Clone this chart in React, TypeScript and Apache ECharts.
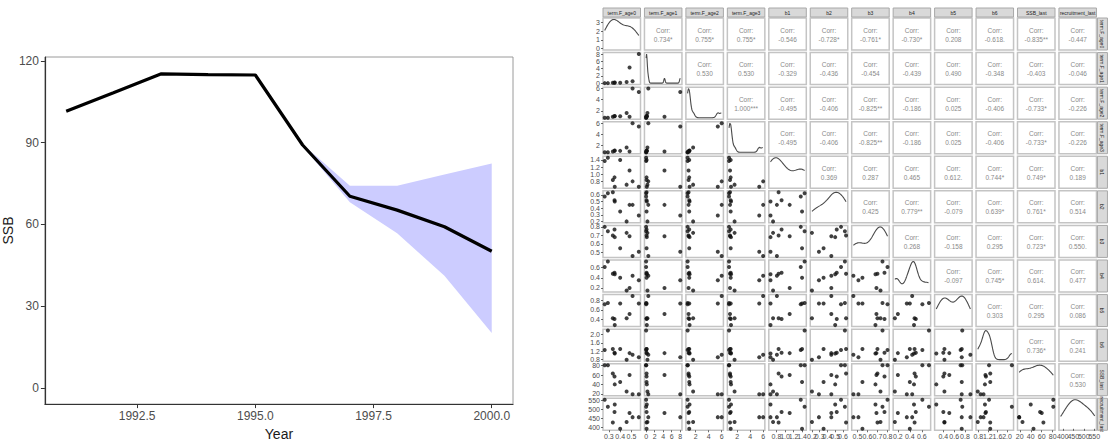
import React, { useEffect, useRef } from "react";
import * as echarts from "echarts";

// ---------- Left chart data ----------
const years = [1991, 1992, 1993, 1994, 1995, 1996, 1997, 1998, 1999, 2000];
const ssb = [101.5, 108.3, 115.2, 114.9, 114.8, 89.1, 70.3, 65.2, 59.1, 50.1];
const ribbonYears = [1996, 1997, 1998, 1999, 2000];
const ribbonLower = [88.6, 68.1, 56.7, 41.1, 20.1];
const ribbonUpper = [89.4, 74.1, 74.1, 78.3, 82.3];
const yearTicks = [1992.5, 1995.0, 1997.5, 2000.0];
const ssbTicks = [0, 30, 60, 90, 120];

// ---------- Pairs plot data (10 observations) ----------
const varNames = [
  "term.F_age0", "term.F_age1", "term.F_age2", "term.F_age3",
  "b1", "b2", "b3", "b4", "b5", "b6", "SSB_last", "recruitment_last",
];
const termFAge0 = [0.263, 0.291, 0.335, 0.35, 0.352, 0.4, 0.457, 0.483, 0.51, 0.565];
const termFAge1 = [0.0, 0.0, 0.1, 0.1, 0.15, 0.1, 0.3, 4.3, 0.5, 8.0];
const termFAge2 = [0.75, 0.75, 0.9, 1.0, 1.05, 1.0, 1.6, 0.9, 6.0, 5.4];
const termFAge3 = [0.75, 0.75, 0.9, 1.0, 1.05, 1.0, 1.6, 0.9, 6.0, 5.4];
const b1 = [1.37, 1.46, 0.85, 0.92, 0.66, 1.4, 0.72, 1.11, 0.81, 0.66];
const b2 = [0.575, 0.625, 0.64, 0.52, 0.5, 0.35, 0.2, 0.45, 0.45, 0.29];
const b3 = [0.8, 0.75, 0.7, 0.77, 0.68, 0.55, 0.73, 0.69, 0.46, 0.51];
const b4 = [0.61, 0.72, 0.48, 0.5, 0.47, 0.4, 0.15, 0.2, 0.44, 0.35];
const b5 = [0.72, 0.75, 0.42, 0.4, 0.27, 0.74, 0.42, 0.51, 0.9, 0.74];
const b6 = [1.25, 2.2, 1.3, 1.12, 1.08, 1.3, 0.78, 1.1, 1.02, 0.9];
const ssbLast = [81, 81, 63, 57, 40, 45, 25, 60, 19, 19];
const recruitmentLast = [552, 513, 425, 484, 525, 390, 428, 478, 455, 455];

const pairTicks = [
  [0.3, 0.4, 0.5], [0, 2, 4, 6, 8], [2, 4, 6], [2, 4, 6],
  [0.8, 1.0, 1.2, 1.4], [0.2, 0.3, 0.4, 0.5, 0.6], [0.5, 0.6, 0.7, 0.8],
  [0.2, 0.4, 0.6], [0.4, 0.6, 0.8], [0.8, 1.2, 1.6, 2.0], [20, 40, 60, 80],
  [400, 450, 500, 550],
];
const tickDecimals = [1, 0, 0, 0, 1, 1, 1, 1, 1, 1, 0, 0];
const densityTicks = [0, 1, 2, 3];

const corrRow1 = ["0.734*", "0.755*", "0.755*", "-0.546", "-0.728*", "-0.761*", "-0.730*", "0.208", "-0.618.", "-0.835**", "-0.447"];
const corrRow2 = ["0.530", "0.530", "-0.329", "-0.436", "-0.454", "-0.439", "0.490", "-0.348", "-0.403", "-0.046"];
const corrRow3 = ["1.000***", "-0.495", "-0.406", "-0.825**", "-0.186", "0.025", "-0.406", "-0.733*", "-0.226"];
const corrRow4 = ["-0.495", "-0.406", "-0.825**", "-0.186", "0.025", "-0.406", "-0.733*", "-0.226"];
const corrRow5 = ["0.369", "0.287", "0.465", "0.612.", "0.744*", "0.749*", "0.189"];
const corrRow6 = ["0.425", "0.779**", "-0.079", "0.639*", "0.761*", "0.514"];
const corrRow7 = ["0.268", "-0.158", "0.295", "0.723*", "0.550."];
const corrRow8 = ["-0.097", "0.745*", "0.614.", "0.477"];
const corrRow9 = ["0.303", "0.295", "0.086"];
const corrRow10 = ["0.736*", "0.241"];
const corrRow11 = ["0.530"];
const corrLabels = [corrRow1, corrRow2, corrRow3, corrRow4, corrRow5, corrRow6, corrRow7, corrRow8, corrRow9, corrRow10, corrRow11];

const pairVars = [termFAge0, termFAge1, termFAge2, termFAge3, b1, b2, b3, b4, b5, b6, ssbLast, recruitmentLast];

// ---------- helpers ----------
function kde(vals: number[], steps = 80): number[][] {
  const n = vals.length;
  const s = [...vals].sort((a, b) => a - b);
  const mean = s.reduce((a, b) => a + b, 0) / n;
  const sd = Math.sqrt(s.reduce((a, b) => a + (b - mean) ** 2, 0) / (n - 1));
  const q = (p: number) => {
    const h = (n - 1) * p;
    const lo = Math.floor(h);
    return s[lo] + (h - lo) * ((s[lo + 1] ?? s[lo]) - s[lo]);
  };
  const iqr = q(0.75) - q(0.25);
  let lo = Math.min(sd, iqr / 1.34);
  if (!(lo > 0)) lo = sd;
  const bw = 0.9 * lo * Math.pow(n, -0.2);
  const out: number[][] = [];
  const mn = s[0], mx = s[n - 1];
  for (let k = 0; k <= steps; k++) {
    const x = mn + ((mx - mn) * k) / steps;
    let d = 0;
    for (const v of s) {
      const z = (x - v) / bw;
      d += Math.exp(-0.5 * z * z);
    }
    d /= n * bw * Math.sqrt(2 * Math.PI);
    out.push([x, d]);
  }
  return out;
}

const FONT = "Liberation Sans, Arial, sans-serif";
const PX0 = 603, PDX = 41.45, PW = 37.5;
const PY0 = 18, PDY = 34.57, PH = 32;
const BORDER = "#c4c4c4";

type LabelSpec = { gi: number; axis: "x" | "y"; values: number[]; decimals: number; xmin: number; ymin: number };

function buildOption() {
  const grids: any[] = [];
  const xAxes: any[] = [];
  const yAxes: any[] = [];
  const series: any[] = [];
  const graphics: any[] = [];
  const labelSpecs: LabelSpec[] = [];

  // ---- Left chart ----
  grids.push({ left: 44, top: 57, width: 469, height: 354, show: true, borderColor: "#9a9a9a", borderWidth: 1, backgroundColor: "#fff" });
  xAxes.push({
    type: "value", gridIndex: 0, min: 1990.55, max: 2000.45,
    axisLine: { show: true, onZero: false, lineStyle: { color: "#333", width: 1.2 } },
    axisTick: { show: true, customValues: yearTicks, length: 4, lineStyle: { color: "#333" } },
    axisLabel: { customValues: yearTicks, formatter: (v: number) => v.toFixed(1), fontSize: 12, color: "#4d4d4d", margin: 6, fontFamily: FONT },
    splitLine: { show: false },
    name: "Year", nameLocation: "middle", nameGap: 19,
    nameTextStyle: { fontSize: 14, color: "#1a1a1a", fontFamily: FONT },
  });
  yAxes.push({
    type: "value", gridIndex: 0, min: -6, max: 121.4,
    axisLine: { show: true, onZero: false, lineStyle: { color: "#333", width: 1.2 } },
    axisTick: { show: true, customValues: ssbTicks, length: 4, lineStyle: { color: "#333" } },
    axisLabel: { customValues: ssbTicks, fontSize: 12, color: "#4d4d4d", margin: 6, fontFamily: FONT },
    splitLine: { show: false },
    name: "SSB", nameLocation: "middle", nameGap: 26,
    nameTextStyle: { fontSize: 14, color: "#1a1a1a", fontFamily: FONT },
  });
  series.push({
    type: "custom", xAxisIndex: 0, yAxisIndex: 0, silent: true, z: 1,
    data: [[ribbonYears[0], ribbonLower[0]]],
    renderItem: (_p: any, api: any) => {
      const pts: number[][] = [];
      ribbonYears.forEach((y, i) => pts.push(api.coord([y, ribbonUpper[i]])));
      for (let i = ribbonYears.length - 1; i >= 0; i--) pts.push(api.coord([ribbonYears[i], ribbonLower[i]]));
      return { type: "polygon", shape: { points: pts }, style: { fill: "rgb(204,204,255)", stroke: "none" } };
    },
  });
  series.push({
    type: "line", xAxisIndex: 0, yAxisIndex: 0, z: 3,
    data: years.map((y, i) => [y, ssb[i]]),
    showSymbol: false, lineStyle: { color: "#000", width: 3.2 },
  });

  // ---- Pairs plot ----
  const ranges = pairVars.map((v) => {
    const mn = Math.min(...v), mx = Math.max(...v);
    const pad = 0.05 * (mx - mn);
    return [mn - pad, mx + pad];
  });

  for (let i = 0; i < 12; i++) {
    for (let j = 0; j <= i; j++) {
      const gi = grids.length;
      const left = PX0 + j * PDX;
      const top = PY0 + i * PDY;
      grids.push({ left, top, width: PW, height: PH, show: true, borderColor: BORDER, borderWidth: 1.5, backgroundColor: "#fff" });
      const bottomRow = i === 11;
      const firstCol = j === 0;
      xAxes.push({
        type: "value", gridIndex: gi, min: ranges[j][0], max: ranges[j][1],
        axisLine: { show: false },
        axisTick: { show: bottomRow, customValues: pairTicks[j], length: 2, lineStyle: { color: "#444", width: 0.8 } },
        axisLabel: { show: false },
        splitLine: { show: false },
      });
      let ymin: number;
      if (i === j) {
        const dens = kde(pairVars[i]);
        const dmax = Math.max(...dens.map((p) => p[1]));
        ymin = -0.05 * dmax;
        yAxes.push({
          type: "value", gridIndex: gi, min: ymin, max: 1.05 * dmax,
          axisLine: { show: false },
          axisTick: { show: firstCol, customValues: densityTicks, length: 2, lineStyle: { color: "#444", width: 0.8 } },
          axisLabel: { show: false },
          splitLine: { show: false },
        });
        series.push({
          type: "line", xAxisIndex: gi, yAxisIndex: gi, data: dens, showSymbol: false,
          lineStyle: { color: "#4a4a4a", width: 1.1 }, silent: true,
        });
        if (firstCol) labelSpecs.push({ gi, axis: "y", values: densityTicks, decimals: 0, xmin: ranges[j][0], ymin });
      } else {
        ymin = ranges[i][0];
        yAxes.push({
          type: "value", gridIndex: gi, min: ranges[i][0], max: ranges[i][1],
          axisLine: { show: false },
          axisTick: { show: firstCol, customValues: pairTicks[i], length: 2, lineStyle: { color: "#444", width: 0.8 } },
          axisLabel: { show: false },
          splitLine: { show: false },
        });
        series.push({
          type: "scatter", xAxisIndex: gi, yAxisIndex: gi, silent: true,
          data: pairVars[j].map((x, k) => [x, pairVars[i][k]]),
          symbolSize: 4, itemStyle: { color: "#111" },
        });
        if (firstCol) labelSpecs.push({ gi, axis: "y", values: pairTicks[i], decimals: tickDecimals[i], xmin: ranges[j][0], ymin });
      }
      if (bottomRow) labelSpecs.push({ gi, axis: "x", values: pairTicks[j], decimals: tickDecimals[j], xmin: ranges[j][0], ymin });
    }
  }

  // upper triangle correlation cells
  for (let i = 0; i < 11; i++) {
    for (let j = i + 1; j < 12; j++) {
      const left = PX0 + j * PDX;
      const top = PY0 + i * PDY;
      const cx = left + PW / 2, cy = top + PH / 2;
      graphics.push({ type: "rect", shape: { x: left, y: top, width: PW, height: PH }, style: { fill: "#fff", stroke: BORDER, lineWidth: 1.5 }, silent: true });
      graphics.push({ type: "text", x: cx, y: cy - 4, style: { text: "Corr:", align: "center", verticalAlign: "middle", fontSize: 6.5, fill: "#8a8a8a", fontFamily: FONT }, silent: true });
      graphics.push({ type: "text", x: cx, y: cy + 5, style: { text: corrLabels[i][j - i - 1], align: "center", verticalAlign: "middle", fontSize: 6.5, fill: "#8a8a8a", fontFamily: FONT }, silent: true });
    }
  }
  // top strips
  for (let j = 0; j < 12; j++) {
    const left = PX0 + j * PDX;
    graphics.push({ type: "rect", shape: { x: left, y: 8, width: PW, height: 9 }, style: { fill: "#d9d9d9", stroke: "#a8a8a8", lineWidth: 1 }, silent: true });
    graphics.push({ type: "text", x: left + PW / 2, y: 12.5, style: { text: varNames[j], align: "center", verticalAlign: "middle", fontSize: 5, fill: "#1a1a1a", fontFamily: FONT }, silent: true });
  }
  // right strips
  for (let i = 0; i < 12; i++) {
    const top = PY0 + i * PDY;
    const sx = PX0 + 11 * PDX + PW + 1;
    graphics.push({ type: "rect", shape: { x: sx, y: top, width: 10, height: PH }, style: { fill: "#d9d9d9", stroke: "#a8a8a8", lineWidth: 1 }, silent: true });
    graphics.push({ type: "text", x: sx + 5, y: top + PH / 2, rotation: -Math.PI / 2, style: { text: varNames[i], align: "center", verticalAlign: "middle", fontSize: 5, fill: "#1a1a1a", fontFamily: FONT }, silent: true });
  }

  return {
    option: {
      animation: false,
      backgroundColor: "#fff",
      textStyle: { fontFamily: FONT },
      grid: grids,
      xAxis: xAxes,
      yAxis: yAxes,
      series,
    },
    graphics,
    labelSpecs,
  };
}

export default function App() {
  const ref = useRef<HTMLDivElement>(null);
  useEffect(() => {
    const chart = echarts.init(ref.current!, null, { renderer: "svg" });
    const { option, graphics, labelSpecs } = buildOption();
    chart.setOption(option as any);
    // tick labels of the pairs matrix, placed through the axes' own scales
    const labels: any[] = [];
    for (const spec of labelSpecs) {
      for (const v of spec.values) {
        const text = v.toFixed(spec.decimals);
        if (spec.axis === "x") {
          const p = chart.convertToPixel({ gridIndex: spec.gi } as any, [v, spec.ymin]) as number[];
          labels.push({ type: "text", x: p[0], y: p[1] + 3, silent: true,
            style: { text, align: "center", verticalAlign: "top", fontSize: 7, fill: "#4d4d4d", fontFamily: FONT } });
        } else {
          const p = chart.convertToPixel({ gridIndex: spec.gi } as any, [spec.xmin, v]) as number[];
          labels.push({ type: "text", x: p[0] - 3, y: p[1], silent: true,
            style: { text, align: "right", verticalAlign: "middle", fontSize: 7, fill: "#4d4d4d", fontFamily: FONT } });
        }
      }
    }
    chart.setOption({ graphic: { elements: [...graphics, ...labels] } } as any);
    return () => chart.dispose();
  }, []);
  return (
    <div
      ref={ref}
      style={{ position: "fixed", left: 0, top: 0, width: 1112, height: 446, background: "#fff" }}
    />
  );
}
